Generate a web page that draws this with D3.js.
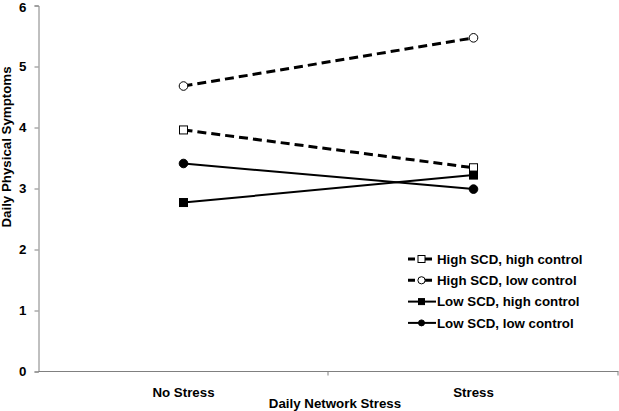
<!DOCTYPE html>
<html><head><meta charset="utf-8">
<script src="https://cdn.jsdelivr.net/npm/d3@7"></script>
<style>body{margin:0;background:#fff}svg{display:block}text{font-family:"Liberation Sans",Arial,sans-serif;font-weight:bold;fill:#000}</style>
</head><body><svg id="c" width="619" height="411"></svg>
<script>
const categories = ["No Stress", "Stress"];
const seriesNames = ["High SCD, high control", "High SCD, low control", "Low SCD, high control", "Low SCD, low control"];
const highScdHighControl = [3.96, 3.34];
const highScdLowControl = [4.68, 5.47];
const lowScdHighControl = [2.77, 3.22];
const lowScdLowControl = [3.41, 2.99];
const yTicks = [0, 1, 2, 3, 4, 5, 6];

(function () {
const series = [
  {name: seriesNames[0], values: highScdHighControl, dashed: true, marker: "square", filled: false},
  {name: seriesNames[1], values: highScdLowControl, dashed: true, marker: "circle", filled: false},
  {name: seriesNames[2], values: lowScdHighControl, dashed: false, marker: "square", filled: true},
  {name: seriesNames[3], values: lowScdLowControl, dashed: false, marker: "circle", filled: true}
];
const fs = "13.3px";
const svg = d3.select("#c");
const mL = 38.5, mR = 618.5, mT = 5.5, mB = 371.5;
const x = d3.scaleBand().domain(categories).range([mL, mR]);
const y = d3.scaleLinear().domain([0, 6]).range([mB, mT]);

// y axis
const ya = svg.append("g").attr("transform", `translate(${mL},0)`)
  .call(d3.axisLeft(y).tickValues(yTicks).tickSize(4).tickPadding(8).tickFormat(d3.format("d")));
ya.select(".domain").attr("stroke", "#808080");
ya.selectAll(".tick line").attr("stroke", "#808080");
ya.selectAll(".tick text").style("font-size", fs).attr("fill", "#000")
  .attr("dy", (d) => d === 6 ? "0.45em" : "0.32em");

// x axis
const xa = svg.append("g").attr("transform", `translate(0,${mB})`);
xa.append("line").attr("x1", mL).attr("x2", mR).attr("stroke", "#808080");
const bounds = [mL + x.bandwidth(), mR];
xa.selectAll("line.tk").data(bounds).join("line").attr("class", "tk")
  .attr("x1", d => d - 0.5).attr("x2", d => d - 0.5).attr("y1", 0).attr("y2", 4).attr("stroke", "#808080");
xa.selectAll("text").data(categories).join("text")
  .attr("x", d => x(d) + x.bandwidth() / 2).attr("y", 25)
  .attr("text-anchor", "middle").style("font-size", fs).text(d => d);

svg.append("text").attr("x", 335).attr("y", 408).attr("text-anchor", "middle")
  .style("font-size", fs).text("Daily Network Stress");
svg.append("text").attr("transform", "translate(11,147) rotate(-90)").attr("text-anchor", "middle")
  .style("font-size", fs).text("Daily Physical Symptoms");

const cx = d => x(d) + x.bandwidth() / 2;
const line = d3.line().x((v, i) => cx(categories[i])).y(v => y(v));

function drawMarker(g, s, px, py) {
  if (s.marker === "square") {
    g.append("rect").attr("x", px - 4).attr("y", py - 4).attr("width", 8).attr("height", 8)
      .attr("fill", s.filled ? "#000" : "#fff").attr("stroke", "#000").attr("stroke-width", 1);
  } else {
    g.append("circle").attr("cx", px).attr("cy", py).attr("r", 4.3)
      .attr("fill", s.filled ? "#000" : "#fff").attr("stroke", "#000").attr("stroke-width", 1);
  }
}

const plot = svg.append("g");
series.forEach(s => {
  plot.append("path").attr("d", line(s.values)).attr("fill", "none").attr("stroke", "#000")
    .attr("stroke-width", s.dashed ? 3 : 2).attr("stroke-dasharray", s.dashed ? "9,5" : null);
});
series.forEach(s => {
  s.values.forEach((v, i) => drawMarker(plot, s, cx(categories[i]), y(v)));
});

// legend
const lg = svg.append("g");
series.forEach((s, i) => {
  const ly = 259 + i * 21.3;
  if (s.dashed) {
    lg.append("line").attr("x1", 408).attr("x2", 436).attr("y1", ly).attr("y2", ly)
      .attr("stroke", "#000").attr("stroke-width", 3).attr("stroke-dasharray", "7,4,3,3");
  } else {
    lg.append("line").attr("x1", 408).attr("x2", 436).attr("y1", ly).attr("y2", ly)
      .attr("stroke", "#000").attr("stroke-width", 2);
  }
  if (s.marker === "square") {
    lg.append("rect").attr("x", 421.5 - (s.filled ? 3 : 3.5)).attr("y", ly - (s.filled ? 3 : 3.5))
      .attr("width", s.filled ? 6 : 7).attr("height", s.filled ? 6 : 7)
      .attr("fill", s.filled ? "#000" : "#fff").attr("stroke", "#000");
  } else {
    lg.append("circle").attr("cx", 421.5).attr("cy", ly).attr("r", s.filled ? 3 : 3.6)
      .attr("fill", s.filled ? "#000" : "#fff").attr("stroke", "#000");
  }
  lg.append("text").attr("x", 437).attr("y", ly + 4.7).style("font-size", fs).text(s.name);
});
})();
</script></body></html>
